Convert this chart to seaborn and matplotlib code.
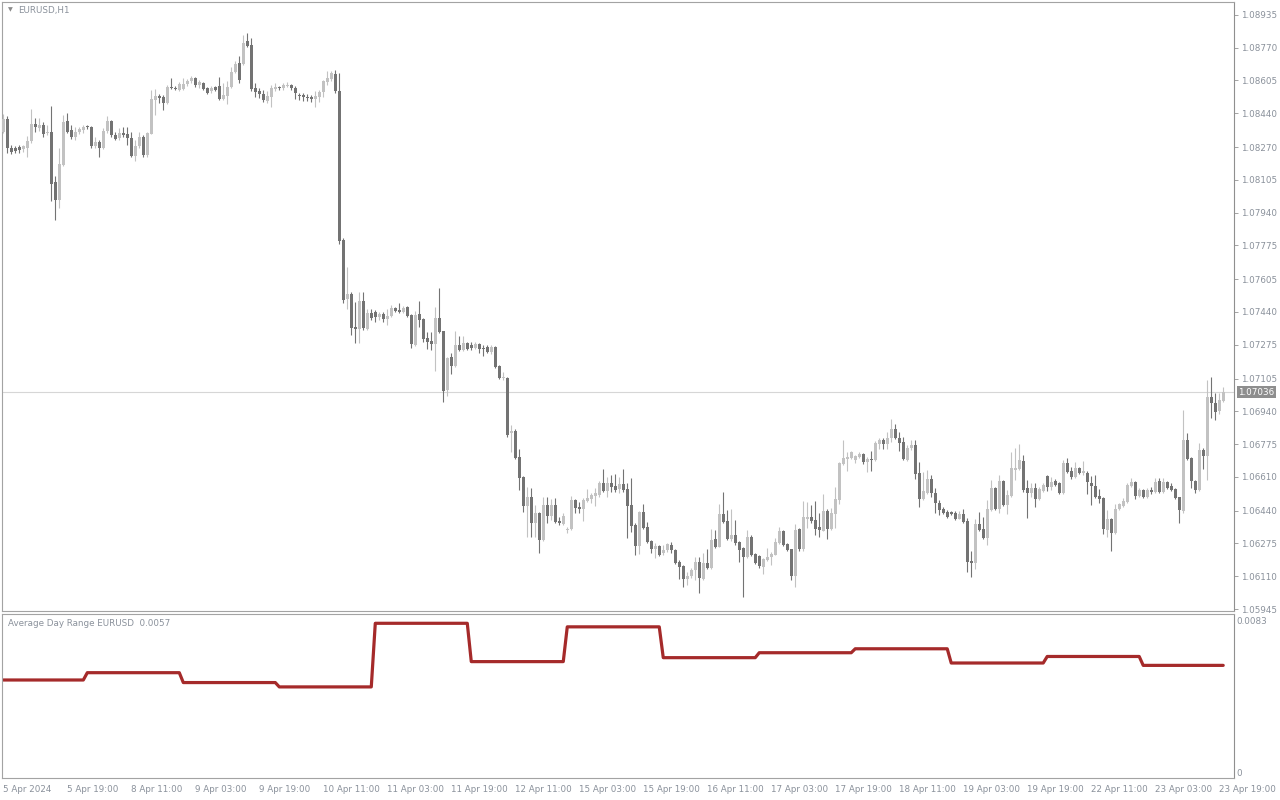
import numpy as np
import pandas as pd
import matplotlib
matplotlib.use("Agg")
import matplotlib.pyplot as plt
import matplotlib.transforms as mtransforms
import seaborn as sns

# ---------------- data (EURUSD H1, prices in points = 1e-5) ----------------
POINT = 1e-5
symbol_title = "EURUSD,H1"
first_bar = "2024-04-05 03:00"
n_bars = 306

open_pts = [
 108345,108412,108266,108264,108268,108261,108264,108298,108387,108368,108382,108340,108346,108095,108004,108182,
 108402,108357,108323,108345,108357,108377,108372,108273,108296,108264,108350,108402,108333,108318,108341,108336,
 108318,108227,108273,108323,108231,108338,108508,108526,108523,108494,108571,108568,108558,108561,108586,108600,
 108617,108580,108591,108568,108550,108571,108575,108513,108529,108570,108647,108692,108689,108805,108785,108566,
 108553,108538,108504,108524,108561,108571,108568,108576,108581,108566,108534,108531,108524,108523,108511,108524,
 108546,108598,108612,108638,108553,107803,107506,107531,107365,107355,107496,107355,107435,107440,107415,107430,
 107405,107420,107460,107450,107440,107466,107425,107274,107430,107405,107309,107294,107279,107410,107345,107048,
 107214,107169,107274,107249,107284,107274,107259,107279,107259,107264,107239,107264,107169,107108,107108,106831,
 106841,106711,106610,106464,106509,106378,106429,106293,106469,106414,106469,106388,106373,106343,106348,106494,
 106459,106449,106489,106499,106514,106519,106580,106539,106580,106564,106549,106574,106549,106469,106368,106262,
 106434,106358,106288,106247,106262,106227,106242,106267,106242,106182,106162,106096,106111,106142,106182,106096,
 106177,106152,106298,106257,106424,106388,106298,106318,106283,106252,106207,106308,106222,106212,106157,106192,
 106207,106217,106278,106338,106273,106247,106111,106348,106247,106398,106408,106393,106358,106338,106439,106348,
 106424,106494,106675,106700,106705,106695,106711,106726,106685,106700,106695,106776,106796,106776,106806,106851,
 106806,106786,106695,106756,106771,106630,106499,106529,106600,106529,106479,106449,106434,106434,106429,106398,
 106424,106388,106187,106177,106373,106348,106303,106444,106554,106449,106590,106469,106514,106645,106650,106690,
 106554,106529,106554,106499,106539,106615,106559,106590,106580,106529,106680,106640,106610,106655,106630,106630,
 106580,106564,106514,106504,106343,106398,106328,106449,106464,106484,106564,106585,106514,106544,106509,106544,
 106534,106590,106534,106585,106564,106549,106509,106439,106796,106705,106590,106544,106746,106716,107013,106982,
 106942,106992]

high_pts = [
 108437,108424,108279,108273,108278,108281,108326,108464,108415,108415,108398,108382,108477,108122,108263,108432,
 108440,108382,108373,108373,108380,108382,108377,108323,108306,108365,108427,108407,108348,108365,108373,108373,
 108348,108306,108348,108331,108348,108558,108561,108538,108533,108583,108617,108575,108595,108617,108612,108628,
 108622,108608,108595,108571,108575,108578,108625,108591,108600,108675,108701,108726,108835,108843,108818,108591,
 108566,108555,108550,108583,108591,108578,108591,108595,108586,108575,108544,108541,108538,108533,108550,108558,
 108608,108654,108655,108659,108644,107813,107667,107541,107491,107541,107541,107456,107456,107450,107440,107440,
 107456,107476,107466,107486,107471,107471,107430,107445,107496,107410,107340,107340,107466,107561,107345,107214,
 107234,107345,107320,107320,107289,107289,107289,107284,107274,107274,107274,107269,107174,107138,107113,106872,
 106851,106751,106615,106559,106554,106469,106434,106509,106509,106499,106504,106408,106429,106358,106514,106499,
 106484,106504,106549,106529,106554,106590,106650,106610,106620,106625,106610,106650,106580,106605,106378,106439,
 106474,106383,106293,106278,106267,106267,106278,106283,106247,106192,106167,106132,106152,106207,106207,106227,
 106247,106348,106343,106474,106534,106443,106449,106393,106288,106257,106343,106318,106227,106217,106202,106252,
 106232,106303,106358,106343,106278,106247,106373,106353,106489,106484,106469,106489,106429,106524,106449,106454,
 106559,106685,106796,106736,106741,106721,106736,106731,106711,106741,106791,106806,106806,106836,106902,106877,
 106836,106811,106771,106796,106796,106685,106635,106645,106620,106554,106494,106459,106444,106439,106439,106439,
 106449,106403,106237,106398,106434,106408,106494,106595,106559,106620,106595,106544,106736,106756,106776,106721,
 106594,106580,106580,106559,106580,106620,106610,106600,106585,106695,106705,106660,106685,106660,106690,106640,
 106615,106620,106549,106509,106444,106403,106474,106479,106504,106580,106605,106590,106554,106549,106554,106559,
 106605,106605,106605,106590,106580,106554,106509,106947,106831,106711,106594,106781,106756,107098,107113,107033,
 107033,107063]

low_pts = [
 108340,108242,108236,108242,108242,108247,108219,108289,108348,108351,108323,108331,107997,107903,107962,108175,
 108340,108311,108306,108336,108340,108363,108264,108264,108222,108259,108343,108323,108306,108306,108320,108281,
 108222,108202,108264,108222,108222,108336,108432,108491,108457,108487,108561,108555,108550,108558,108578,108591,
 108571,108566,108555,108538,108544,108550,108508,108508,108487,108566,108642,108591,108684,108776,108550,108524,
 108516,108499,108491,108471,108550,108558,108558,108571,108555,108511,108508,108504,108504,108499,108474,108499,
 108524,108583,108600,108541,107783,107486,107456,107325,107284,107284,107350,107350,107400,107390,107400,107390,
 107375,107415,107440,107435,107435,107415,107259,107269,107365,107289,107254,107249,107143,107335,106987,107018,
 107128,107164,107244,107244,107249,107249,107254,107234,107219,107234,107229,107158,107103,107098,106811,106736,
 106700,106544,106434,106308,106308,106308,106227,106288,106378,106393,106378,106368,106368,106328,106343,106429,
 106429,106388,106484,106479,106464,106509,106534,106509,106534,106534,106529,106534,106303,106333,106217,106222,
 106348,106278,106227,106202,106212,106217,106232,106227,106172,106096,106056,106066,106101,106091,106026,106091,
 106147,106147,106252,106257,106378,106293,106288,106267,106182,106006,106202,106212,106172,106152,106122,106187,
 106167,106217,106273,106262,106237,106091,106056,106237,106237,106353,106378,106318,106308,106338,106298,106343,
 106353,106474,106670,106640,106700,106680,106705,106675,106635,106640,106690,106751,106751,106751,106786,106801,
 106741,106695,106690,106746,106600,106459,106494,106524,106509,106429,106418,106424,106403,106418,106393,106398,
 106378,106132,106106,106147,106338,106298,106267,106439,106444,106429,106464,106424,106509,106594,106645,106534,
 106403,106509,106459,106494,106534,106539,106544,106564,106524,106524,106630,106600,106605,106625,106620,106524,
 106469,106504,106479,106323,106308,106237,106323,106444,106459,106479,106559,106499,106509,106504,106504,106524,
 106529,106529,106529,106549,106539,106499,106378,106429,106695,106554,106529,106539,106650,106594,106907,106896,
 106927,106987]

close_pts = [
 108412,108263,108247,108252,108256,108273,108301,108387,108370,108382,108338,108346,108086,108004,108185,108397,
 108348,108323,108348,108360,108372,108370,108273,108296,108264,108351,108402,108331,108313,108343,108333,108318,
 108227,108276,108323,108231,108340,108511,108528,108519,108494,108571,108565,108560,108585,108588,108603,108617,
 108580,108595,108561,108544,108566,108558,108513,108533,108571,108650,108689,108605,108796,108781,108563,108548,
 108538,108508,108529,108565,108570,108565,108580,108580,108565,108541,108528,108524,108518,108511,108529,108548,
 108600,108615,108642,108551,107798,107501,107531,107360,107355,107496,107360,107435,107410,107415,107430,107405,
 107420,107460,107445,107440,107460,107420,107279,107425,107400,107304,107289,107279,107410,107340,107043,107209,
 107169,107274,107249,107284,107254,107259,107279,107254,107254,107239,107264,107164,107108,107113,106821,106841,
 106705,106605,106464,106509,106378,106429,106293,106469,106414,106469,106383,106378,106414,106348,106494,106454,
 106449,106494,106504,106519,106529,106580,106539,106580,106559,106544,106574,106544,106464,106363,106262,106434,
 106353,106283,106247,106262,106217,106242,106272,106242,106177,106157,106096,106111,106142,106182,106101,106177,
 106152,106293,106257,106424,106383,106298,106318,106278,106242,106207,106308,106217,106177,106162,106197,106207,
 106222,106283,106338,106267,106242,106111,106343,106247,106408,106408,106388,106348,106343,106439,106348,106429,
 106499,106680,106705,106711,106736,106716,106726,106685,106700,106695,106781,106796,106776,106806,106851,106806,
 106781,106700,106756,106771,106625,106499,106539,106600,106529,106479,106444,106429,106408,106424,106398,106424,
 106383,106182,106177,106373,106343,106303,106449,106554,106449,106590,106469,106519,106655,106655,106695,106544,
 106529,106554,106499,106549,106570,106559,106585,106570,106529,106680,106635,106610,106655,106630,106640,106585,
 106564,106509,106499,106348,106398,106328,106449,106474,106489,106570,106585,106514,106544,106509,106544,106534,
 106585,106534,106585,106554,106544,106504,106444,106796,106700,106590,106544,106746,106716,107013,106982,106937,
 106997,107036]

# Average Day Range, one value per trading day
adr_days = ["2024-04-05", "2024-04-08", "2024-04-09", "2024-04-10", "2024-04-11", "2024-04-12", "2024-04-15",
            "2024-04-16", "2024-04-17", "2024-04-18", "2024-04-19", "2024-04-22", "2024-04-23"]
adr_values = [0.00496, 0.00533, 0.00483, 0.00461, 0.00783, 0.00589, 0.00765,
              0.00609, 0.00634, 0.00654, 0.00582, 0.00615, 0.0057]
adr_label = "Average Day Range EURUSD  0.0057"
adr_ticks = [0, 0.0083]
adr_tick_labels = ["0", "0.0083"]

price_ticks = [1.08935, 1.08770, 1.08605, 1.08440, 1.08270, 1.08105, 1.07940, 1.07775, 1.07605, 1.07440,
               1.07275, 1.07105, 1.06940, 1.06775, 1.06610, 1.06440, 1.06275, 1.06110, 1.05945]
current_price = 1.07036
xtick_every = 16

# ---------------- build frame ----------------
times = pd.date_range(first_bar, periods=n_bars * 2, freq="h")
times = times[times.dayofweek < 5][:n_bars]
df = pd.DataFrame({
    "time": times,
    "open": np.array(open_pts) * POINT,
    "high": np.array(high_pts) * POINT,
    "low": np.array(low_pts) * POINT,
    "close": np.array(close_pts) * POINT,
})
df["idx"] = np.arange(len(df))
df["day"] = df["time"].dt.strftime("%Y-%m-%d")
df["adr"] = df["day"].map(dict(zip(adr_days, adr_values)))
df["bull"] = df["close"] >= df["open"]

# ---------------- style ----------------
sns.set_theme(style="white")
plt.rcParams["font.family"] = ["DejaVu Sans"]
TXT = "#8a919b"
FRAME = "#a3a3a3"
DARK = "#737373"
LIGHT = "#c2c2c2"
FS = 6.3

W, H = 1280, 800
fig = plt.figure(figsize=(W / 100, H / 100), dpi=100)
fig.patch.set_facecolor("white")
ax = fig.add_axes([2 / W, 1 - 611 / H, 1232 / W, 609 / H])
ax2 = fig.add_axes([2 / W, 1 - 778 / H, 1232 / W, 164 / H])

# ---------------- candles ----------------
cols = np.where(df["bull"], LIGHT, DARK)
ax.vlines(df["idx"], df["low"], df["high"], colors=cols, linewidth=0.8, zorder=2)
body_lo = np.minimum(df["open"], df["close"])
body_h = np.maximum((df["close"] - df["open"]).abs(), 0.000035)
ax.bar(df["idx"], body_h, bottom=body_lo, width=0.8, color=cols, linewidth=0, zorder=3)

ax.axhline(current_price, color="#d6d6d6", linewidth=0.8, zorder=1)

ax.set_xlim(-0.33, 307.7)
ax.set_ylim(1.05935, 1.09000)
ax.set_xticks([])
ax.yaxis.tick_right()
ax.set_yticks(price_ticks)
ax.set_yticklabels([f"{v:.5f}" for v in price_ticks])
ax.tick_params(axis="y", direction="out", length=3, width=0.7, color=FRAME,
               labelsize=FS, labelcolor=TXT, pad=2)
for s in ax.spines.values():
    s.set_color(FRAME)
    s.set_linewidth(0.8)
ax.spines["right"].set_color("#8f8f8f")

trans = mtransforms.blended_transform_factory(ax.transAxes, ax.transData)
ax.text(1.0035, current_price, f"{current_price:.5f}", transform=trans, fontsize=FS,
        color="white", va="center", ha="left", zorder=5,
        bbox=dict(boxstyle="square,pad=0.18", facecolor="#8e8e8e", edgecolor="none"))

# ---------------- ADR indicator ----------------
sns.lineplot(data=df, x="idx", y="adr", ax=ax2, color="#a52a2a", linewidth=2.3,
             legend=False, estimator=None)
ax2.set_xlim(-0.33, 307.7)
ax2.set_ylim(0, 0.0083)
ax2.set_xlabel("")
ax2.set_ylabel("")
ax2.yaxis.tick_right()
ax2.set_yticks(adr_ticks)
ax2.set_yticklabels(adr_tick_labels)
ax2.tick_params(axis="y", length=0, labelsize=FS, labelcolor=TXT, pad=2)
ylabs = ax2.get_yticklabels()
ylabs[0].set_va("bottom")
ylabs[1].set_va("top")
ylabs[1].set_transform(ylabs[1].get_transform() +
                       mtransforms.ScaledTranslation(0, -3 / 100, fig.dpi_scale_trans))

tick_idx = list(range(0, n_bars, xtick_every))
tick_lab = []
for k, t in enumerate(df["time"].iloc[tick_idx]):
    tick_lab.append(f"{t.day} {t.strftime('%b %Y')}" if k == 0 else f"{t.day} {t.strftime('%b %H:%M')}")
ax2.set_xticks(tick_idx)
ax2.set_xticklabels(tick_lab)
ax2.tick_params(axis="x", direction="out", length=4, width=0.7, color=FRAME,
                labelsize=FS, labelcolor=TXT, pad=1)
for lab in ax2.get_xticklabels():
    lab.set_ha("left")
for s in ax2.spines.values():
    s.set_color(FRAME)
    s.set_linewidth(0.8)
ax2.spines["right"].set_color("#8f8f8f")

# ---------------- texts ----------------
fig.text(8 / W, 1 - 10 / H, "\u25BC", fontsize=4.5, color="#8a8a8a", va="center", ha="left")
fig.text(18 / W, 1 - 10 / H, symbol_title, fontsize=FS, color=TXT, va="center", ha="left")
fig.text(8 / W, 1 - 623 / H, adr_label, fontsize=FS, color=TXT, va="center", ha="left")

fig.savefig("out.png", dpi=100, facecolor="white")
